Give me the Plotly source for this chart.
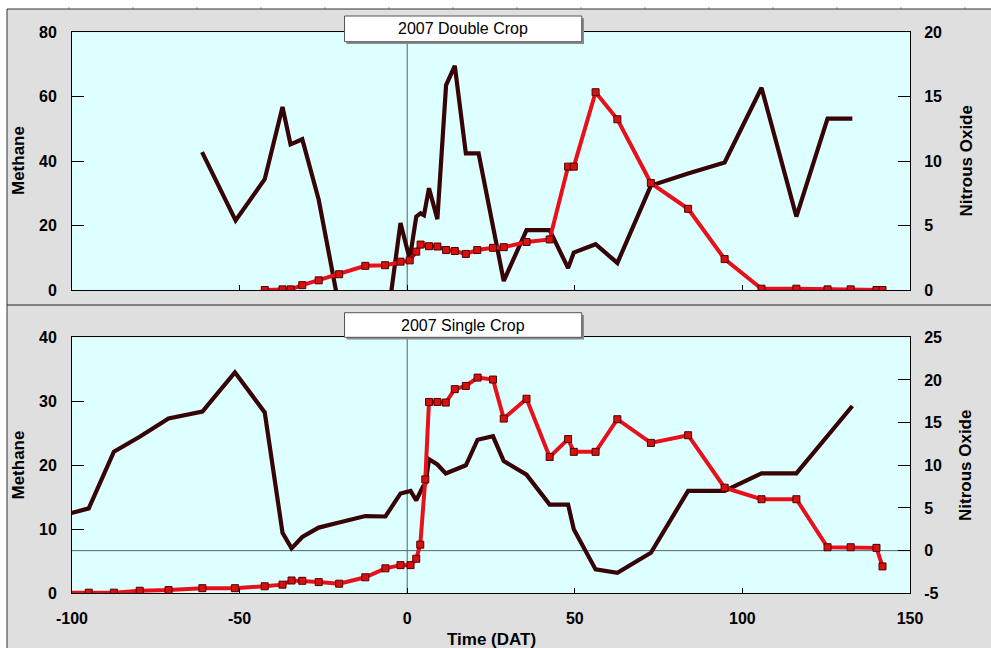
import plotly.graph_objects as go

# ---------------- data ----------------
# 2007 Double Crop
dc_ch4_x = [-42.5, -37.2, -34.8, -31.3, -26.4, -20.3, -12.5, -6.6, -2.0, 0.75, 2.7, 4.0, 6.5, 9.0,
            11.6, 14.2, 17.5, 20.9, 25.6, 28.8, 35.6, 42.5, 48.0, 49.7, 56.2, 62.7, 72.7, 83.8,
            94.7, 105.7, 116.1, 125.4, 132.3, 140.0, 141.8]
dc_ch4 = [0.0, 0.2, 0.2, 1.5, 3.0, 4.9, 7.5, 7.7, 8.8, 9.2, 11.9, 14.1, 13.6, 13.5,
          12.4, 12.1, 11.2, 12.4, 13.1, 13.3, 14.9, 15.7, 38.3, 38.3, 61.4, 53.0, 33.2, 25.2,
          9.6, 0.4, 0.4, 0.2, 0.2, 0.0, 0.0]

dc_n2o_x = [-61.2, -51.2, -42.5, -37.2, -34.8, -31.3, -26.4, -12.5, -6.6, -2.0, 0.75, 2.7, 4.0, 5.0,
            6.5, 9.0, 11.6, 14.2, 17.5, 21.3, 28.8, 35.6, 42.5, 48.0, 49.7, 56.2, 62.7, 72.7,
            83.8, 94.7, 105.7, 116.1, 125.4, 132.8]
dc_n2o = [10.7, 5.4, 8.6, 14.2, 11.3, 11.7, 7.0, -12.0, -3.7, 5.2, 2.4, 5.7, 5.95, 5.8,
          7.9, 5.5, 15.9, 17.4, 10.6, 10.6, 0.7, 4.65, 4.65, 1.7, 2.9, 3.55, 2.1, 8.1,
          9.05, 9.9, 15.7, 5.7, 13.3, 13.3]

# 2007 Single Crop
sc_ch4_x = [-103, -95.0, -87.5, -79.8, -71.2, -61.1, -51.4, -42.5, -37.2, -34.5, -31.3, -26.4, -20.3,
            -12.5, -6.5, -2.0, 1.0, 2.7, 3.9, 5.4, 6.5, 9.0, 11.5, 14.2, 17.5, 21.0, 25.6, 28.8,
            35.6, 42.5, 48.0, 49.7, 56.2, 62.7, 72.7, 83.8, 94.7, 105.7, 116.1, 125.4, 132.3,
            140.0, 141.8]
sc_ch4 = [0.1, 0.1, 0.1, 0.4, 0.5, 0.8, 0.8, 1.1, 1.35, 2.0, 1.95, 1.75, 1.5,
          2.5, 3.9, 4.4, 4.4, 5.4, 7.6, 17.8, 29.9, 29.9, 29.8, 31.9, 32.4, 33.7, 33.4, 27.3,
          30.4, 21.3, 24.1, 22.1, 22.1, 27.2, 23.5, 24.7, 16.5, 14.7, 14.7, 7.2, 7.2,
          7.1, 4.2]

sc_n2o_x = [-103, -95.0, -87.5, -79.8, -71.2, -61.1, -51.4, -42.5, -37.2, -34.5, -31.3, -26.4, -20.3,
            -12.5, -6.5, -2.0, 1.0, 2.7, 4.7, 5.5, 6.5, 9.0, 11.5, 17.5, 21.0, 25.6, 28.8, 35.6,
            42.5, 48.0, 49.7, 56.2, 62.7, 72.7, 83.8, 94.7, 105.7, 116.1, 132.8]
sc_n2o = [4.1, 4.95, 11.6, 13.35, 15.5, 16.3, 20.9, 16.2, 2.1, 0.27, 1.6, 2.7, 3.3,
          4.05, 4.0, 6.7, 7.0, 5.9, 7.5, 7.9, 10.7, 10.1, 9.05, 10.0, 13.0, 13.4, 10.5, 8.9,
          5.4, 5.4, 2.5, -2.2, -2.6, -0.25, 7.0, 7.0, 9.05, 9.05, 16.95]

panel_titles = ["2007 Double Crop", "2007 Single Crop"]
x_ticks = [-100, -50, 0, 50, 100, 150]
x_tick_labels = ["-100", "-50", "0", "50", "100", "150"]
n2o_ticks_bottom = [-5, 0, 5, 10, 15, 20, 25]
n2o_tick_labels_bottom = ["-5", "0", "5", "10", "15", "20", "25"]

# ---------------- styling ----------------
W, H = 991, 648
RED = "#e8101a"
DARK = "#360306"
BG = "#dfdfdf"
PLOT_BG = "#ddffff"
FONT = "Liberation Sans, Arial, sans-serif"


def px(x):
    return x / W


def py(y):
    return 1 - y / H


XDOM = [px(72), px(910)]
TOP_DOM = [py(290), py(32.3)]
BOT_DOM = [py(593.3), py(337.3)]

fig = go.Figure()

line_dark = dict(color=DARK, width=4.2)
line_red = dict(color=RED, width=4)
marker_red = dict(symbol="square", size=7, color="#d81010", line=dict(color="#500000", width=1))

# N2O on base axes (drawn first), methane on overlaying axes (drawn on top)
fig.add_trace(go.Scatter(x=dc_n2o_x, y=dc_n2o, mode="lines", line=line_dark,
                         xaxis="x", yaxis="y", showlegend=False))
fig.add_trace(go.Scatter(x=dc_ch4_x, y=dc_ch4, mode="lines+markers", line=line_red, marker=marker_red,
                         xaxis="x", yaxis="y2", showlegend=False))
fig.add_trace(go.Scatter(x=sc_n2o_x, y=sc_n2o, mode="lines", line=line_dark,
                         xaxis="x2", yaxis="y3", showlegend=False))
fig.add_trace(go.Scatter(x=sc_ch4_x, y=sc_ch4, mode="lines+markers", line=line_red, marker=marker_red,
                         xaxis="x2", yaxis="y4", showlegend=False))

tickfont = dict(family=FONT, size=16, color="black", weight="bold")

xcommon = dict(domain=XDOM, range=[-100, 150], tickvals=x_ticks, ticktext=x_tick_labels,
               ticks="inside", ticklen=5, automargin=False,
               tickcolor="black", showline=True, linecolor="black", linewidth=1, mirror=True,
               showgrid=False, zeroline=False, tickfont=tickfont, ticklabelstandoff=10)
ycommon = dict(ticks="inside", ticklen=12, tickcolor="black", showline=True, linecolor="black",
               linewidth=1, showgrid=False, zeroline=False, tickfont=tickfont, automargin=False)

fig.update_layout(
    width=W, height=H,
    margin=dict(l=0, r=0, t=0, b=0),
    paper_bgcolor=BG, plot_bgcolor=PLOT_BG,
    showlegend=False,
    xaxis=dict(xcommon, anchor="y", showticklabels=False),
    xaxis2=dict(xcommon, anchor="y3"),
    yaxis=dict(ycommon, domain=TOP_DOM, range=[0, 20], tickvals=[0, 5, 10, 15, 20], side="right",
               anchor="x", ticklabelstandoff=10),
    yaxis2=dict(ycommon, range=[0, 80], tickvals=[0, 20, 40, 60, 80], side="left",
                overlaying="y", anchor="x", ticklabelstandoff=11),
    yaxis3=dict(ycommon, domain=BOT_DOM, range=[-5, 25], tickvals=n2o_ticks_bottom,
                ticktext=n2o_tick_labels_bottom, side="right", anchor="x2", ticklabelstandoff=10),
    yaxis4=dict(ycommon, range=[0, 40], tickvals=[0, 10, 20, 30, 40], side="left",
                overlaying="y3", anchor="x2", ticklabelstandoff=11),
)

shapes = []
# reference lines
shapes.append(dict(type="line", xref="x", yref="y domain", x0=0, x1=0, y0=0, y1=1,
                   line=dict(color="#556666", width=1), layer="below"))
shapes.append(dict(type="line", xref="x2", yref="y3 domain", x0=0, x1=0, y0=0, y1=1,
                   line=dict(color="#556666", width=1), layer="below"))
shapes.append(dict(type="line", xref="x2 domain", yref="y3", x0=0, x1=1, y0=0, y1=0,
                   line=dict(color="#556666", width=1), layer="below"))

# window frame
shapes.append(dict(type="rect", xref="paper", yref="paper", x0=0, x1=1, y0=py(9), y1=1,
                   fillcolor="white", line=dict(width=0), layer="below"))
shapes.append(dict(type="rect", xref="paper", yref="paper", x0=0, x1=px(7), y0=0, y1=1,
                   fillcolor="white", line=dict(width=0), layer="below"))
for tx in range(69, 991, 64):
    shapes.append(dict(type="line", xref="paper", yref="paper", x0=px(tx), x1=px(tx), y0=py(6.5), y1=py(9),
                       line=dict(color="#b0b0b0", width=1)))
shapes.append(dict(type="line", xref="paper", yref="paper", x0=px(7), x1=1, y0=py(9), y1=py(9),
                   line=dict(color="#333333", width=1)))
shapes.append(dict(type="line", xref="paper", yref="paper", x0=px(7), x1=px(7), y0=0, y1=py(9),
                   line=dict(color="#333333", width=1)))
shapes.append(dict(type="line", xref="paper", yref="paper", x0=px(7), x1=1, y0=py(305), y1=py(305),
                   line=dict(color="#222222", width=1.2)))

# title boxes
annotations = []
for (top, bottom), title in zip([(16, 41.7), (312.7, 337.3)], panel_titles):
    shapes.append(dict(type="rect", xref="paper", yref="paper", x0=px(346.5), x1=px(584),
                       y0=py(bottom + 2.3), y1=py(top + 2.3), fillcolor="#8a8a8a", line=dict(width=0)))
    shapes.append(dict(type="rect", xref="paper", yref="paper", x0=px(344.5), x1=px(581.7),
                       y0=py(bottom), y1=py(top), fillcolor="white", line=dict(color="#555555", width=1)))
    annotations.append(dict(text=title, xref="paper", yref="paper", x=px(463), y=py((top + bottom) / 2),
                            showarrow=False, xanchor="center", yanchor="middle",
                            font=dict(family=FONT, size=16, color="black")))

title_font = dict(family=FONT, size=17, color="black", weight="bold")
for yc in [161, 465.5]:
    annotations.append(dict(text="Methane", xref="paper", yref="paper", x=px(18), y=py(yc),
                            textangle=-90, showarrow=False, xanchor="center", yanchor="middle",
                            font=title_font))
    annotations.append(dict(text="Nitrous Oxide", xref="paper", yref="paper", x=px(965.5), y=py(yc),
                            textangle=-90, showarrow=False, xanchor="center", yanchor="middle",
                            font=title_font))
annotations.append(dict(text="Time (DAT)", xref="paper", yref="paper", x=px(491), y=py(639),
                        showarrow=False, xanchor="center", yanchor="middle", font=title_font))

fig.update_layout(shapes=shapes, annotations=annotations)

# remove the default 8px page margin so the figure fills the window exactly
fig.write_html("out.html", config={"displayModeBar": False},
               post_script="document.body.style.margin='0';document.body.style.overflow='hidden';")
